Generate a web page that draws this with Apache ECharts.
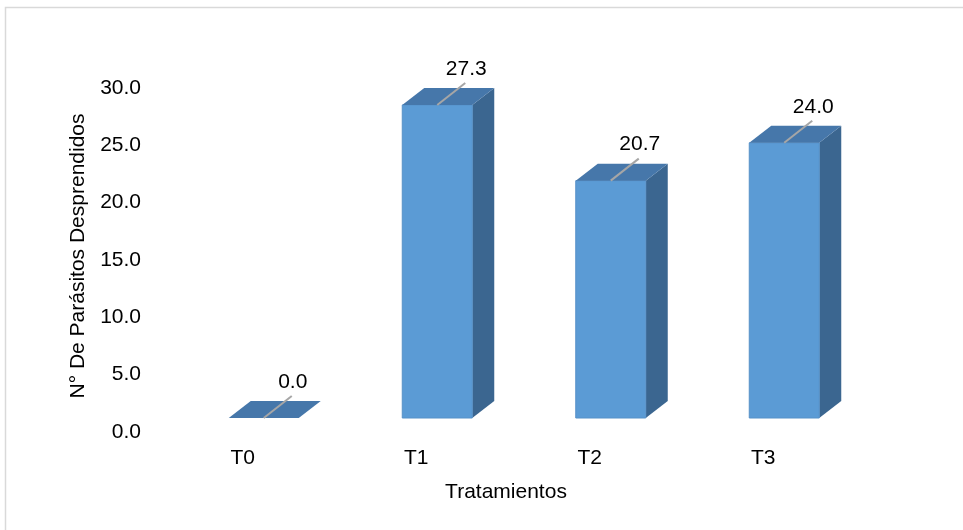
<!DOCTYPE html>
<html>
<head>
<meta charset="utf-8">
<script src="https://cdn.jsdelivr.net/npm/echarts@6/dist/echarts.min.js"></script>
<style>
  html, body { margin: 0; padding: 0; background: #fff; }
  #chart { width: 963px; height: 530px; }
</style>
</head>
<body>
<div id="chart"></div>
<script>
// Treatment groups and mean number of detached parasites
const categories = ['T0', 'T1', 'T2', 'T3'];
const detached = [0.0, 27.3, 20.7, 24.0];
const yTicks = { min: 0, max: 30, interval: 5 };

const FONT = 'Liberation Sans, Arial, sans-serif';
const FS = 21;
const FRONT = '#5B9BD5';
const TOP = '#4677AA';
const SIDE = '#3B6690';

const chart = echarts.init(document.getElementById('chart'));

// Pseudo-3D column: front face, top face and right side face
function renderColumn(params, api) {
  const i = api.value(0);
  const v = api.value(1);
  const base = api.coord([i, 0]);
  const top = api.coord([i, v]);
  const half = 35, dx = 22, dy = 17, shift = 21, lift = 14;
  const cx = base[0] + shift;
  const y0 = base[1] - lift;
  const y1 = top[1] - lift;
  const l = cx - half, r = cx + half;
  const children = [];
  if (y0 - y1 > 0.5) {
    children.push({
      type: 'polygon',
      shape: { points: [[r, y1], [r + dx, y1 - dy], [r + dx, y0 - dy], [r, y0]] },
      style: { fill: SIDE }
    });
    children.push({
      type: 'rect',
      shape: { x: l, y: y1, width: half * 2, height: y0 - y1 },
      style: { fill: FRONT, stroke: '#5791C8', lineWidth: 1 }
    });
  }
  children.push({
    type: 'polygon',
    shape: { points: [[l, y1], [r, y1], [r + dx, y1 - dy], [l + dx, y1 - dy]] },
    style: { fill: TOP }
  });
  // leader line and value label
  children.push({
    type: 'line',
    shape: { x1: cx, y1: y1, x2: cx + 28, y2: y1 - 22 },
    style: { stroke: '#A6A6A6', lineWidth: 2 }
  });
  children.push({
    type: 'text',
    style: {
      x: cx + 29, y: y1 - 36,
      text: v.toFixed(1),
      fill: '#000', font: FS + 'px ' + FONT,
      align: 'center', verticalAlign: 'middle'
    }
  });
  return { type: 'group', children: children };
}

chart.setOption({
  backgroundColor: '#fff',
  animation: false,
  graphic: [
    {
      type: 'rect', silent: true, z: -1,
      shape: { x: 5.5, y: 7.5, width: 980, height: 540 },
      style: { fill: 'none', stroke: '#D9D9D9', lineWidth: 1.5 }
    },
    {
      type: 'text',
      rotation: Math.PI / 2,
      x: 78, y: 256,
      style: {
        text: 'N° De Parásitos Desprendidos',
        fill: '#000', font: FS + 'px ' + FONT,
        align: 'center', verticalAlign: 'middle'
      }
    },
    {
      type: 'text',
      style: {
        x: 506, y: 492, text: 'Tratamientos',
        fill: '#000', font: FS + 'px ' + FONT,
        align: 'center', verticalAlign: 'middle'
      }
    }
  ],
  grid: { left: 156, width: 694, top: 88, bottom: 98, containLabel: false },
  xAxis: {
    type: 'category',
    data: categories,
    axisLine: { show: false },
    axisTick: { show: false },
    axisLabel: { color: '#000', fontFamily: FONT, fontSize: FS, margin: 16 }
  },
  yAxis: {
    type: 'value',
    min: yTicks.min, max: yTicks.max, interval: yTicks.interval,
    axisLine: { show: false },
    axisTick: { show: false },
    splitLine: { show: false },
    axisLabel: {
      color: '#000', fontFamily: FONT, fontSize: FS, margin: 15,
      formatter: v => v.toFixed(1)
    }
  },
  series: [{
    type: 'custom',
    renderItem: renderColumn,
    data: detached.map((v, i) => [i, v]),
    encode: { x: 0, y: 1 },
    clip: false
  }]
});
</script>
</body>
</html>
